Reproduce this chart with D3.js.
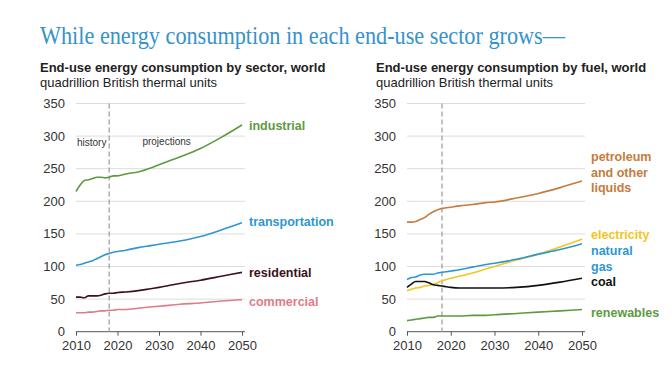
<!DOCTYPE html>
<html>
<head>
<meta charset="utf-8">
<script src="https://d3js.org/d3.v7.min.js"></script>
<title>End-use energy consumption</title>
<style>
	body { margin:0; background:#fff; }
	svg text { font-family: Arial, "Liberation Sans", sans-serif; }
	.tick text { font-size:13px; fill:#333; }
	.lbl { font-size:12.5px; font-weight:bold; }
</style>
</head>
<body>
<div id="chart"></div>
<script>
// years with a reading
var years = [2010,2011,2012,2013,2014,2015,2016,2017,2018,2019,2020,2022,2025,2028,2030,2035,2040,2045,2050];

// by sector
var industrial     = [215,225,232,233,235,237,237,236,237,239,239,242,245,251,256,268,281,298,317];
var transportation = [102,103,105,107,109,112,115,118,120,122,123,125,129,132,134,139,146,156,167];
var residential    = [53,53,52,55,55,55,56,58,59,59,60,61,63,66,68,74,79,85,91];
var commercial     = [29,29,29,30,30,31,32,32,33,33,34,34,36,38,39,42,44,47,49];

// by fuel
var petroleum   = [168,168,169,172,175,180,184,187,189,190,191,193,195,198,199,205,212,221,231];
var electricity = [63,65,67,68,70,71,73,75,78,80,82,85,90,96,100,110,119,130,142];
var naturalGas  = [80,83,84,87,88,88,88,90,91,92,93,95,99,103,105,111,119,126,135];
var coal        = [68,73,77,77,77,75,72,71,70,69,68,67,67,67,67,68,71,76,82];
var renewables  = [17,18,19,20,21,22,22,24,24,24,24,24,25,25,26,28,30,32,34];

var yTicks = [0,50,100,150,200,250,300,350];
var xTicks = [2010,2020,2030,2040,2050];

var sectorSeries = [
	{name:["industrial"], values:industrial, color:"#5d9a3f", ly:126},
	{name:["transportation"], values:transportation, color:"#2e97d1", ly:222},
	{name:["residential"], values:residential, color:"#3a1219", ly:273},
	{name:["commercial"], values:commercial, color:"#e07b88", ly:302}
];
var fuelSeries = [
	{name:["petroleum","and other","liquids"], values:petroleum, color:"#c47c3c", ly:157},
	{name:["electricity"], values:electricity, color:"#f4c51c", ly:235},
	{name:["natural","gas"], values:naturalGas, color:"#2e97d1", ly:251},
	{name:["coal"], values:coal, color:"#111111", ly:282},
	{name:["renewables"], values:renewables, color:"#5d9a3f", ly:313}
];

var svg = d3.select("#chart").append("svg")
	.attr("width",672)
	.attr("height",366);

svg.append("text")
	.attr("x",40).attr("y",44)
	.style("font-family","'Liberation Serif','Times New Roman',serif")
	.style("font-size","25px")
	.attr("fill","#3592cc")
	.attr("textLength",525)
	.attr("lengthAdjust","spacingAndGlyphs")
	.text("While energy consumption in each end-use sector grows\u2014");

function panel(opts)
{
	var g = svg.append("g");
	var x = d3.scaleLinear().domain([2010,2050]).range([opts.x0,opts.x1]);
	var y = d3.scaleLinear().domain([0,350]).range([331.7,103.5]);

	g.append("text").attr("x",opts.tx).attr("y",72)
		.style("font-size","13px").style("font-weight","bold").attr("fill","#222")
		.text(opts.title);
	g.append("text").attr("x",opts.tx).attr("y",87)
		.style("font-size","13px").attr("fill","#222")
		.text("quadrillion British thermal units");

	// grid
	g.append("g").selectAll("line").data(yTicks.filter(function(d){return d>0;})).enter()
		.append("line")
		.attr("x1",opts.x0).attr("x2",opts.x1+3)
		.attr("y1",function(d){return y(d);}).attr("y2",function(d){return y(d);})
		.attr("stroke","#dcdcdc").attr("stroke-width",1);

	// y labels
	g.append("g").selectAll("text").data(yTicks).enter()
		.append("text")
		.attr("class","tick")
		.attr("x",opts.x0-11).attr("y",function(d){return y(d);})
		.attr("dy","0.35em").attr("text-anchor","end")
		.style("font-size","13px").attr("fill","#333")
		.text(function(d){return d;});

	// x axis
	var xa = g.append("g")
		.attr("transform","translate(0,"+y(0)+")")
		.call(d3.axisBottom(x).tickValues(xTicks).tickFormat(d3.format("d")).tickSize(4).tickPadding(5));
	xa.select(".domain").attr("stroke","#555").attr("d","M"+opts.x0+",0H"+(opts.x1+3));
	xa.selectAll(".tick line").attr("stroke","#555");
	xa.selectAll(".tick text").style("font-size","13px").attr("fill","#333")
		.style("font-family","Arial, 'Liberation Sans', sans-serif");

	// history / projections divider
	g.append("line")
		.attr("x1",x(2018)).attr("x2",x(2018))
		.attr("y1",y(350)).attr("y2",y(0))
		.attr("stroke","#a0a0a0").attr("stroke-width",1.3)
		.attr("stroke-dasharray","5,3");

	if (opts.notes)
	{
		g.append("text").attr("x",x(2010)+1).attr("y",142).attr("dy","0.35em")
			.style("font-size","10px").attr("fill","#333").text("history");
		g.append("text").attr("x",x(2026)).attr("y",141).attr("dy","0.35em")
			.style("font-size","10px").attr("fill","#333").text("projections");
	}

	var line = d3.line()
		.x(function(d,i){return x(years[i]);})
		.y(function(d){return y(d);})
		.curve(d3.curveMonotoneX);

	opts.series.forEach(function(s)
	{
		g.append("path")
			.attr("d",line(s.values))
			.attr("fill","none")
			.attr("stroke",s.color)
			.attr("stroke-width",1.6);
		var t = g.append("text").attr("class","lbl")
			.attr("x",opts.lx).attr("y",s.ly).attr("dy","0.35em")
			.attr("fill",s.color);
		s.name.forEach(function(n,i){
			t.append("tspan").attr("x",opts.lx).attr("dy",i==0?"0.35em":"15.5px").text(n);
		});
	});
}

panel({x0:76, x1:242, tx:40, lx:249, notes:true,
	title:"End-use energy consumption by sector, world", series:sectorSeries});
panel({x0:407, x1:582, tx:376, lx:591, notes:false,
	title:"End-use energy consumption by fuel, world", series:fuelSeries});
</script>
</body>
</html>
